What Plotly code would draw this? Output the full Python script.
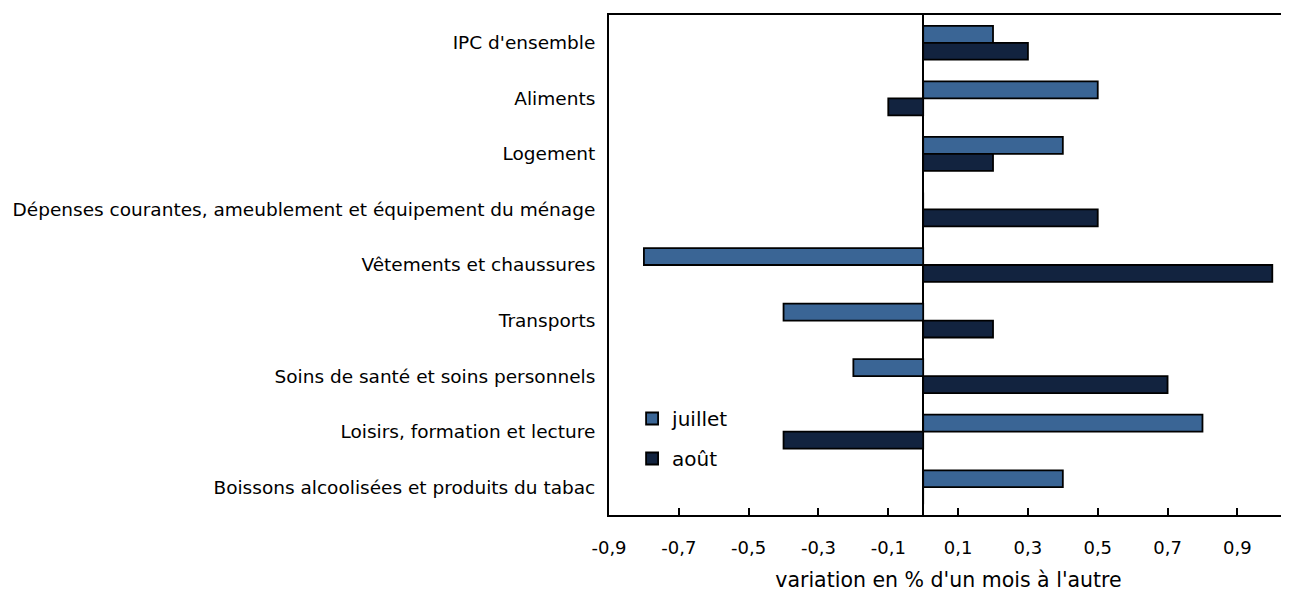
import plotly.graph_objects as go

categories = [
    "IPC d'ensemble",
    "Aliments",
    "Logement",
    "Dépenses courantes, ameublement et équipement du ménage",
    "Vêtements et chaussures",
    "Transports",
    "Soins de santé et soins personnels",
    "Loisirs, formation et lecture",
    "Boissons alcoolisées et produits du tabac",
]
juillet = [0.2, 0.5, 0.4, 0.0, -0.8, -0.4, -0.2, 0.8, 0.4]
aout = [0.3, -0.1, 0.2, 0.5, 1.0, 0.2, 0.7, -0.4, 0.0]
tick_vals = [-0.9, -0.7, -0.5, -0.3, -0.1, 0.1, 0.3, 0.5, 0.7, 0.9]
tick_text = ["-0,9", "-0,7", "-0,5", "-0,3", "-0,1", "0,1", "0,3", "0,5", "0,7", "0,9"]
x_title = "variation en % d'un mois à l'autre"

FONT = "DejaVu Sans"

fig = go.Figure()
fig.add_trace(go.Bar(y=categories, x=juillet, orientation="h", name="juillet",
                     legendgroup="a",
                     marker=dict(color="#3A6595", line=dict(color="#000000", width=1.8))))
fig.add_trace(go.Bar(y=categories, x=aout, orientation="h", name="août",
                     legendgroup="b",
                     marker=dict(color="#12233F", line=dict(color="#000000", width=1.8))))

fig.update_layout(
    width=1289, height=594,
    margin=dict(l=599, r=9, t=5, b=87),
    paper_bgcolor="white", plot_bgcolor="white",
    barmode="group", bargap=0.39, bargroupgap=0,
    font=dict(family=FONT, size=18, color="#000000"),
    legend=dict(x=0.034, y=0.232, xanchor="left", yanchor="top",
                bgcolor="rgba(0,0,0,0)", font=dict(size=20, family=FONT),
                traceorder="grouped", tracegroupgap=11, itemwidth=30),
    showlegend=True,
)
fig.update_xaxes(
    range=[-0.9, 1.045], tickvals=tick_vals, ticktext=tick_text,
    ticks="inside", ticklen=7, tickwidth=1.5, tickcolor="#000000",
    showline=True, linecolor="#000000", linewidth=2, mirror=True,
    showgrid=False, zeroline=True, zerolinecolor="#000000", zerolinewidth=2,
    ticklabelstandoff=15,
    tickfont=dict(size=18, family=FONT),
    title=dict(text=x_title, font=dict(size=20.5, family=FONT), standoff=16),
)
fig.update_yaxes(
    autorange="reversed", showline=True, linecolor="#000000", linewidth=2,
    mirror=True, showgrid=False, ticks="", ticklabelstandoff=8,
    tickfont=dict(size=18.5, family=FONT),
)
fig.write_html("out.html")
